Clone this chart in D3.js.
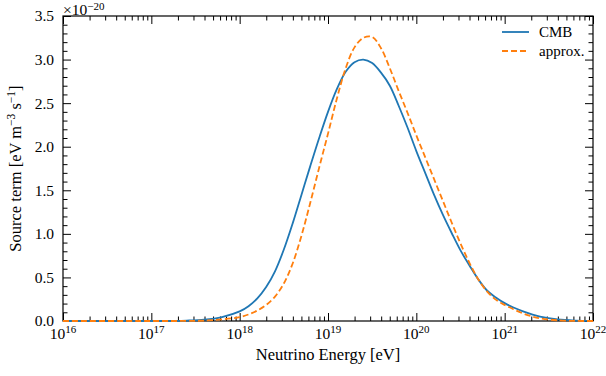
<!DOCTYPE html>
<html>
<head>
<meta charset="utf-8">
<script src="https://cdn.jsdelivr.net/npm/d3@7"></script>
<style>
  body { margin: 0; background: #fff; }
  text { font-family: "Liberation Serif", "DejaVu Serif", serif; fill: #000; }
</style>
</head>
<body>
<div id="chart"></div>
<script>
// log10 of neutrino energy [eV]
const cmbLogE = [16.0, 17.0, 17.4, 17.6, 17.8, 18.0, 18.1, 18.2, 18.3, 18.4, 18.5, 18.6, 18.7, 18.8,
  18.9, 19.0, 19.1, 19.2, 19.3, 19.4, 19.5, 19.6, 19.7, 19.8, 19.9, 20.0, 20.1, 20.2, 20.3, 20.4,
  20.5, 20.6, 20.7, 20.8, 20.9, 21.0, 21.1, 21.2, 21.3, 21.4, 21.6, 21.8, 22.0];
// source term, units of 1e-20
const cmbVals = [0, 0.0, 0.005, 0.015, 0.045, 0.11, 0.17, 0.26, 0.39, 0.57, 0.82, 1.12, 1.45, 1.78,
  2.10, 2.40, 2.66, 2.86, 2.97, 3.00, 2.96, 2.85, 2.70, 2.47, 2.22, 1.95, 1.70, 1.45, 1.22, 1.01,
  0.81, 0.64, 0.48, 0.35, 0.27, 0.205, 0.155, 0.113, 0.078, 0.05, 0.018, 0.005, 0.001];

const approxLogE = [16.0, 17.0, 17.4, 17.6, 17.8, 18.0, 18.1, 18.2, 18.3, 18.4, 18.5, 18.6, 18.7, 18.8,
  18.9, 19.0, 19.1, 19.2, 19.3, 19.4, 19.5, 19.6, 19.7, 19.8, 19.9, 20.0, 20.1, 20.2, 20.3, 20.4,
  20.5, 20.6, 20.7, 20.8, 20.9, 21.0, 21.1, 21.2, 21.3, 21.4, 21.6, 21.8, 22.0];
const approxVals = [0, 0.0, 0.001, 0.005, 0.018, 0.045, 0.075, 0.12, 0.185, 0.28, 0.43, 0.66, 0.98, 1.36,
  1.76, 2.15, 2.55, 2.90, 3.14, 3.25, 3.26, 3.13, 2.90, 2.64, 2.39, 2.13, 1.88, 1.63, 1.38, 1.13,
  0.89, 0.67, 0.48, 0.34, 0.245, 0.185, 0.135, 0.09, 0.055, 0.03, 0.008, 0.001, 0.0];

const yMajor = [0, 0.5, 1.0, 1.5, 2.0, 2.5, 3.0, 3.5];
const xDecades = [16, 17, 18, 19, 20, 21, 22];

const margin = {top: 16, right: 13, bottom: 55, left: 63};
const width = 606 - margin.left - margin.right;
const height = 376 - margin.top - margin.bottom;

const svg = d3.select('#chart').append('svg')
  .attr('width', 606)
  .attr('height', 376);

const g = svg.append('g')
  .attr('transform', `translate(${margin.left},${margin.top})`);

const x = d3.scaleLog().domain([1e16, 1e22]).range([0, width]);
const y = d3.scaleLinear().domain([0, 3.5]).range([height, 0]);

// ticks: majors at powers of ten, minors at 2..9
const allX = x.ticks();
const xMinor = allX.filter(v => Math.abs(Math.log10(v) - Math.round(Math.log10(v))) > 1e-6);
const xMajorVals = xDecades.map(d => Math.pow(10, d));
const yMinor = d3.range(0, 3.51, 0.1).filter(v => Math.abs(v * 2 - Math.round(v * 2)) > 1e-6);

function tickAxis(axisFn, scale, vals, size, tr) {
  g.append('g')
    .attr('transform', tr)
    .call(axisFn(scale).tickValues(vals).tickSize(size).tickFormat(''))
    .call(s => s.select('.domain').remove())
    .selectAll('line').attr('stroke', '#000').attr('stroke-width', 1);
}
tickAxis(d3.axisBottom, x, xMajorVals, -8, `translate(0,${height})`);
tickAxis(d3.axisBottom, x, xMinor, -4.5, `translate(0,${height})`);
tickAxis(d3.axisTop, x, xMajorVals, -8, 'translate(0,0)');
tickAxis(d3.axisTop, x, xMinor, -4.5, 'translate(0,0)');
tickAxis(d3.axisLeft, y, yMajor, -8, 'translate(0,0)');
tickAxis(d3.axisLeft, y, yMinor, -4.5, 'translate(0,0)');
tickAxis(d3.axisRight, y, yMajor, -8, `translate(${width},0)`);
tickAxis(d3.axisRight, y, yMinor, -4.5, `translate(${width},0)`);

// frame
g.append('rect')
  .attr('width', width).attr('height', height)
  .attr('fill', 'none').attr('stroke', '#000').attr('stroke-width', 1.2);

// curves
const line = d3.line()
  .x(d => x(Math.pow(10, d[0])))
  .y(d => y(Math.max(0, d[1])))
  .curve(d3.curveCatmullRom.alpha(0.5));

g.append('path')
  .datum(cmbLogE.map((e, i) => [e, cmbVals[i]]))
  .attr('fill', 'none').attr('stroke', '#1f77b4').attr('stroke-width', 1.8)
  .attr('d', line);

g.append('path')
  .datum(approxLogE.map((e, i) => [e, approxVals[i]]))
  .attr('fill', 'none').attr('stroke', '#ff7f0e').attr('stroke-width', 1.8)
  .attr('stroke-dasharray', '6,3')
  .attr('d', line);

// y tick labels
g.selectAll('.ylab').data(yMajor).enter().append('text')
  .attr('x', -9).attr('y', d => y(d)).attr('dy', '0.35em')
  .attr('text-anchor', 'end').style('font-size', '15.5px')
  .text(d => d.toFixed(1));

// x tick labels 10^n
const xl = g.selectAll('.xlab').data(xDecades).enter().append('text')
  .attr('x', d => x(Math.pow(10, d))).attr('y', height + 18)
  .attr('text-anchor', 'middle').style('font-size', '15.5px');
xl.append('tspan').text('10');
xl.append('tspan').attr('dy', -6).style('font-size', '11px').text(d => d);

// offset text
const off = g.append('text').attr('x', 0).attr('y', -1).style('font-size', '15.5px');
off.append('tspan').text('×10');
off.append('tspan').attr('dy', -5).style('font-size', '11px').text('−20');

// axis labels
g.append('text')
  .attr('x', width / 2).attr('y', height + 39)
  .attr('text-anchor', 'middle').style('font-size', '16.5px')
  .text('Neutrino Energy [eV]');

const yl = g.append('text')
  .attr('transform', `translate(${-42},${height / 2}) rotate(-90)`)
  .attr('text-anchor', 'middle').style('font-size', '16.5px');
yl.append('tspan').text('Source term [eV m');
yl.append('tspan').attr('dy', -6).style('font-size', '11.5px').text('−3');
yl.append('tspan').attr('dy', 6).text(' s');
yl.append('tspan').attr('dy', -6).style('font-size', '11.5px').text('−1');
yl.append('tspan').attr('dy', 6).text(']');

// legend
const legendItems = [
  {name: 'CMB', color: '#1f77b4', dash: null},
  {name: 'approx.', color: '#ff7f0e', dash: '6,3'}
];
const lg = g.append('g').attr('transform', `translate(${width - 91},${16})`);
legendItems.forEach((it, i) => {
  const row = lg.append('g').attr('transform', `translate(0,${i * 19})`);
  row.append('line')
    .attr('x1', 0).attr('x2', 27).attr('y1', 0).attr('y2', 0)
    .attr('stroke', it.color).attr('stroke-width', 1.8)
    .attr('stroke-dasharray', it.dash);
  row.append('text').attr('x', 37).attr('y', 0).attr('dy', '0.33em')
    .style('font-size', '15px').text(it.name);
});
</script>
</body>
</html>
